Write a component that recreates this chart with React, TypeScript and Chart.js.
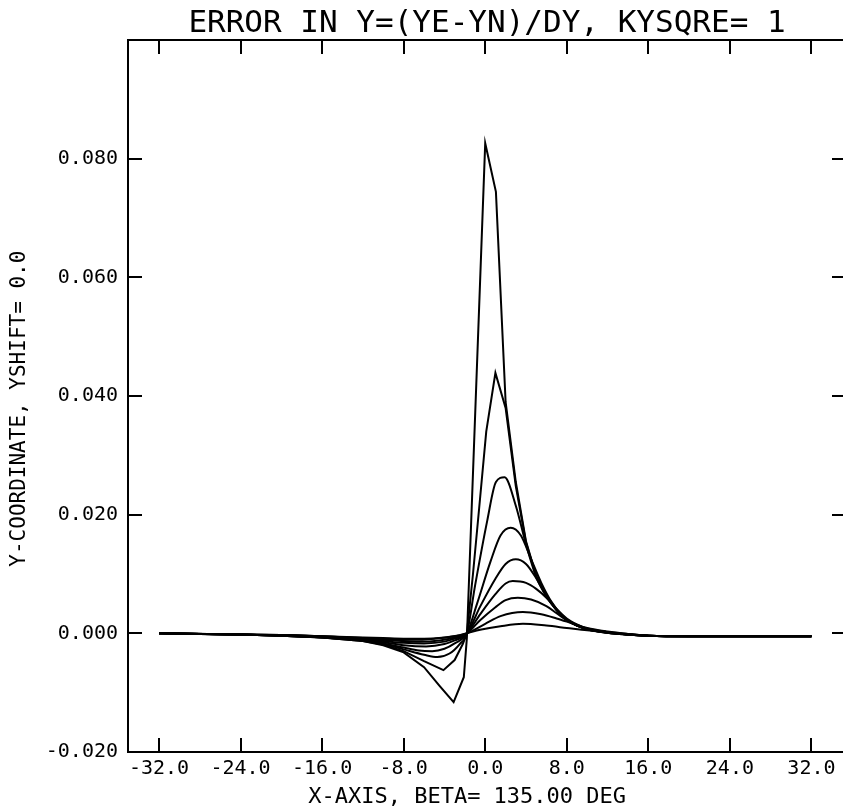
import React, { useEffect, useRef } from 'react';
import { Chart, registerables } from 'chart.js';

Chart.register(...registerables);

const TITLE = 'ERROR IN Y=(YE-YN)/DY, KYSQRE= 1';
const X_TITLE = 'X-AXIS, BETA= 135.00 DEG   ';
const Y_TITLE = 'Y-COORDINATE, YSHIFT= 0.0  ';

const X_TICKS = [-32, -24, -16, -8, 0, 8, 16, 24, 32];
const X_TICK_LABELS = ['-32.0', '-24.0', '-16.0', '-8.0', '0.0', '8.0', '16.0', '24.0', '32.0'];
const Y_TICKS = [-0.02, 0, 0.02, 0.04, 0.06, 0.08];
const Y_TICK_LABELS = ['-0.020', '0.000', '0.020', '0.040', '0.060', '0.080'];

const X_MIN = -35.04;
const X_MAX = 35.39;
const Y_MIN = -0.02;
const Y_MAX = 0.1;

// Curve A (tallest spike)
const curveA_x = [-32, -24, -20, -16, -12, -10, -8, -6, -4.5, -3.1, -2.1, -1.8, 0, 1.05, 2, 3, 4, 5, 6, 7, 8, 9, 10, 12, 14, 16, 20, 24, 28, 32];
const curveA_y = [0, -0.0002, -0.0004, -0.0007, -0.0013, -0.002, -0.0032, -0.0057, -0.0088, -0.0116, -0.0074, -0.0008, 0.0826, 0.0744, 0.039, 0.0255, 0.0155, 0.0097, 0.0064, 0.004, 0.0023, 0.0013, 0.0007, 0.0001, -0.0002, -0.0004, -0.0005, -0.0005, -0.0005, -0.0005];
// Curve B
const curveB_x = [-32, -24, -20, -16, -12, -10, -8, -6, -4.1, -3, -2.2, -1.8, -1.2, -0.6, 0.1, 1, 2, 3, 4, 5, 6, 7, 8, 9, 10, 12, 14, 16, 20, 24, 28, 32];
const curveB_y = [0, -0.0002, -0.0004, -0.0007, -0.0013, -0.0019, -0.003, -0.0047, -0.0062, -0.0045, -0.0018, 0, 0.01, 0.021, 0.034, 0.0439, 0.038, 0.0248, 0.0153, 0.0096, 0.0063, 0.0039, 0.0022, 0.0013, 0.0007, 0.0001, -0.0002, -0.0004, -0.0005, -0.0005, -0.0005, -0.0005];
// Curve C
const curveC_x = [-32, -24, -20, -16, -12, -10, -8, -6, -4.7, -3.5, -2.5, -1.8, -1, 0.2, 1.05, 1.9, 3, 4, 5, 6, 7, 8, 9, 10, 12, 14, 16, 20, 24, 28, 32];
const curveC_y = [0, -0.0002, -0.0004, -0.0007, -0.0012, -0.0018, -0.0027, -0.0036, -0.004, -0.0034, -0.0018, 0, 0.008, 0.019, 0.0255, 0.0263, 0.0215, 0.015, 0.0095, 0.0062, 0.0039, 0.0022, 0.0013, 0.0007, 0.0001, -0.0002, -0.0004, -0.0005, -0.0005, -0.0005, -0.0005];
// Curve D
const curveD_x = [-32, -24, -20, -16, -12, -10, -8, -6.5, -5.2, -4, -3, -1.8, -0.8, 0.5, 1.5, 2.5, 3.5, 4.5, 5.5, 6.5, 7.5, 8.5, 10, 12, 14, 16, 20, 24, 28, 32];
const curveD_y = [0, -0.0002, -0.0004, -0.0007, -0.0012, -0.0017, -0.0024, -0.0029, -0.003, -0.0026, -0.0017, 0, 0.005, 0.012, 0.0165, 0.0178, 0.0165, 0.0125, 0.0085, 0.0053, 0.0031, 0.0018, 0.0007, 0.0001, -0.0002, -0.0004, -0.0005, -0.0005, -0.0005, -0.0005];
// Curve E
const curveE_x = [-32, -24, -20, -16, -12, -10, -8, -5.8, -4, -3, -1.8, -0.5, 1, 2, 3, 4, 5, 6, 7, 8, 9, 10, 12, 14, 16, 20, 24, 28, 32];
const curveE_y = [0, -0.0002, -0.0004, -0.0006, -0.0011, -0.0015, -0.002, -0.0022, -0.0018, -0.0012, 0, 0.0045, 0.0092, 0.0117, 0.0125, 0.0117, 0.0093, 0.0063, 0.0039, 0.0023, 0.0013, 0.0007, 0.0001, -0.0002, -0.0004, -0.0005, -0.0005, -0.0005, -0.0005];
// Curve F
const curveF_x = [-32, -24, -20, -16, -12, -10, -8, -6, -4, -3, -1.8, -0.5, 1, 2, 2.7, 4, 5, 6, 7, 8, 9, 10, 12, 14, 16, 20, 24, 28, 32];
const curveF_y = [0, -0.0002, -0.0003, -0.0006, -0.001, -0.0013, -0.0016, -0.0017, -0.0014, -0.0009, 0, 0.0032, 0.0066, 0.0084, 0.0088, 0.0085, 0.0075, 0.006, 0.0041, 0.0025, 0.0015, 0.0008, 0.0002, -0.0002, -0.0004, -0.0005, -0.0005, -0.0005, -0.0005];
// Curve G
const curveG_x = [-32, -24, -20, -16, -12, -10, -8, -6.5, -4.5, -3, -1.8, -0.5, 1, 2, 3.2, 4.5, 6, 7, 8, 9, 10, 12, 14, 16, 20, 24, 28, 32];
const curveG_y = [0, -0.0002, -0.0003, -0.0005, -0.0009, -0.0011, -0.0013, -0.0014, -0.0012, -0.0007, 0, 0.0022, 0.0044, 0.0056, 0.006, 0.0057, 0.0046, 0.0034, 0.0022, 0.0013, 0.0008, 0.0002, -0.0002, -0.0004, -0.0005, -0.0005, -0.0005, -0.0005];
// Curve H
const curveH_x = [-32, -24, -20, -16, -12, -10, -8, -7, -5, -3, -1.8, 0, 1.5, 3.7, 5.5, 7, 8.5, 10, 12, 14, 16, 20, 24, 28, 32];
const curveH_y = [0, -0.0002, -0.0003, -0.0005, -0.0008, -0.001, -0.0011, -0.0011, -0.0009, -0.0005, 0, 0.0016, 0.0029, 0.0036, 0.0032, 0.0025, 0.0017, 0.0009, 0.0003, -0.0001, -0.0004, -0.0005, -0.0005, -0.0005, -0.0005];
// Curve I (lowest)
const curveI_x = [-32, -24, -20, -16, -12, -10, -8, -6, -4, -2.5, -1.8, -0.5, 1.5, 3.7, 6, 8, 10, 12, 14, 16, 20, 24, 28, 32];
const curveI_y = [0, -0.0002, -0.0003, -0.0005, -0.0007, -0.0008, -0.0009, -0.0009, -0.0007, -0.0003, 0, 0.0006, 0.0012, 0.0016, 0.0013, 0.0009, 0.0005, 0.0002, -0.0001, -0.0004, -0.0005, -0.0005, -0.0005, -0.0005];

const CURVES: [number[], number[], boolean][] = [
  [curveA_x, curveA_y, false],
  [curveB_x, curveB_y, false],
  [curveC_x, curveC_y, true],
  [curveD_x, curveD_y, true],
  [curveE_x, curveE_y, true],
  [curveF_x, curveF_y, true],
  [curveG_x, curveG_y, true],
  [curveH_x, curveH_y, true],
  [curveI_x, curveI_y, true],
];

const MONO = "'DejaVu Sans Mono', 'Liberation Mono', monospace";

export default function App() {
  const ref = useRef<HTMLCanvasElement | null>(null);

  useEffect(() => {
    if (!ref.current) return;
    const gridBase = {
      display: true,
      drawOnChartArea: false,
      drawTicks: true,
      tickLength: -14,
      color: '#000',
      tickColor: '#000',
      lineWidth: 2,
      tickWidth: 2,
    };
    const border = { display: true, color: '#000', width: 2 };
    const tickFont = { family: MONO, size: 20 };

    const chart = new Chart(ref.current, {
      type: 'line',
      data: {
        datasets: CURVES.map(([xs, ys, smooth]) => ({
          data: xs.map((x, i) => ({ x, y: ys[i] })),
          borderColor: '#000',
          borderWidth: 2,
          pointRadius: 0,
          fill: false,
          tension: 0,
          cubicInterpolationMode: smooth ? 'monotone' : 'default',
          xAxisID: 'x',
          yAxisID: 'y',
        })),
      },
      options: {
        animation: false,
        responsive: false,
        devicePixelRatio: 1,
        layout: { padding: 0, autoPadding: false },
        plugins: { legend: { display: false }, tooltip: { enabled: false }, title: { display: false } },
        scales: {
          x: {
            type: 'linear',
            axis: 'x',
            position: 'bottom',
            min: X_MIN,
            max: X_MAX,
            afterBuildTicks: (s: any) => { s.ticks = X_TICKS.map((v) => ({ value: v })); },
            afterFit: (s: any) => { s.height = 56; },
            grid: gridBase,
            border,
            ticks: {
              color: '#000',
              font: tickFont,
              padding: 19,
              maxRotation: 0,
              minRotation: 0,
              autoSkip: false,
              callback: (_v: any, i: number) => X_TICK_LABELS[i],
            },
            title: {
              display: true,
              text: X_TITLE,
              color: '#000',
              font: { family: MONO, size: 22, lineHeight: 1 },
              padding: { top: 0, bottom: 0 },
            },
          },
          xTop: {
            type: 'linear',
            axis: 'x',
            position: 'top',
            min: X_MIN,
            max: X_MAX,
            afterBuildTicks: (s: any) => { s.ticks = X_TICKS.map((v) => ({ value: v })); },
            afterFit: (s: any) => { s.height = 40; },
            grid: gridBase,
            border,
            ticks: { display: false },
            title: {
              display: true,
              text: TITLE,
              color: '#000',
              font: { family: MONO, size: 31, lineHeight: 1 },
              padding: { top: 8, bottom: 0 },
            },
          },
          y: {
            type: 'linear',
            axis: 'y',
            position: 'left',
            min: Y_MIN,
            max: Y_MAX,
            afterBuildTicks: (s: any) => { s.ticks = Y_TICKS.map((v) => ({ value: v })); },
            afterFit: (s: any) => { s.width = 128; },
            grid: gridBase,
            border,
            ticks: {
              color: '#000',
              font: tickFont,
              padding: 24,
              autoSkip: false,
              callback: (_v: any, i: number) => Y_TICK_LABELS[i],
            },
            title: {
              display: true,
              text: Y_TITLE,
              color: '#000',
              font: { family: MONO, size: 21, lineHeight: 1 },
              padding: { top: 9.5, bottom: 0 },
            },
          },
          yRight: {
            type: 'linear',
            axis: 'y',
            position: 'right',
            min: Y_MIN,
            max: Y_MAX,
            afterBuildTicks: (s: any) => { s.ticks = Y_TICKS.map((v) => ({ value: v })); },
            afterFit: (s: any) => { s.width = 34; },
            grid: gridBase,
            border,
            ticks: { display: false },
          },
        },
      } as any,
    });
    return () => chart.destroy();
  }, []);

  return (
    <div style={{ position: 'fixed', left: 0, top: 0, width: 843, height: 808, overflow: 'hidden', background: '#fff' }}>
      <canvas ref={ref} width={880} height={808} style={{ display: 'block', width: 880, height: 808 }} />
    </div>
  );
}
